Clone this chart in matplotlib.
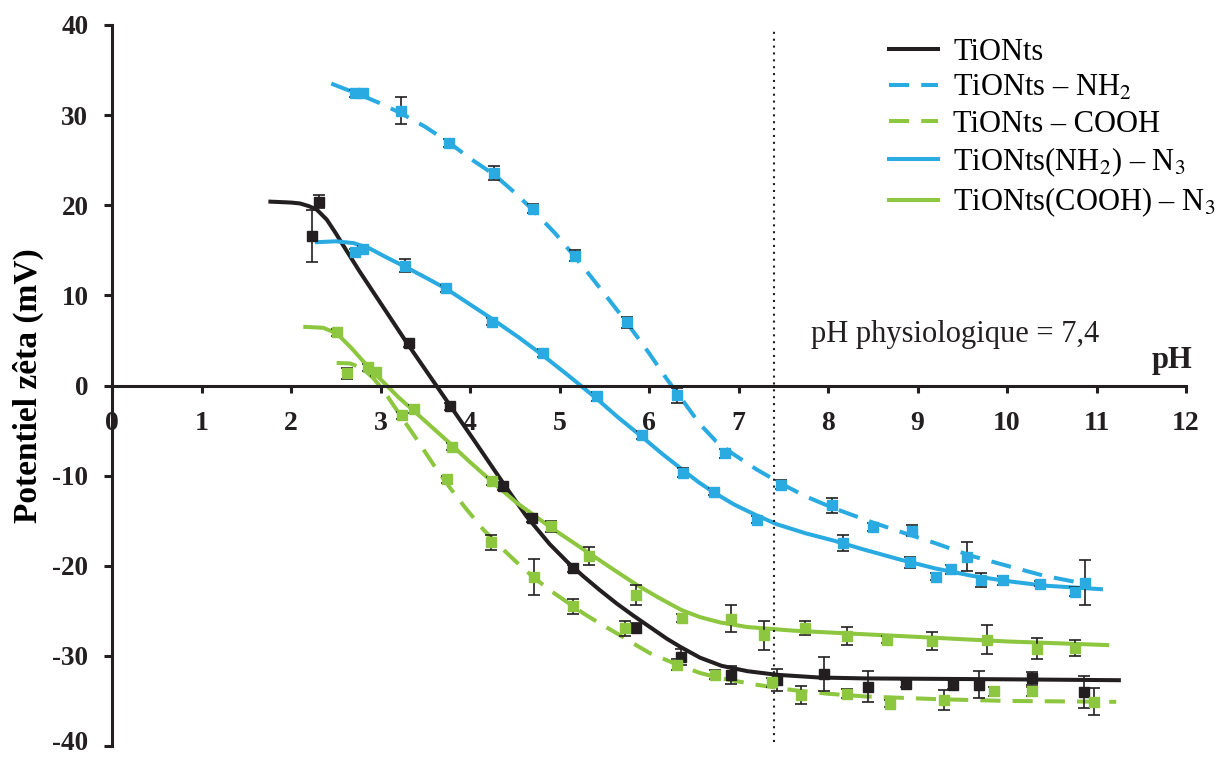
import matplotlib
matplotlib.use("Agg")
import matplotlib.pyplot as plt
from matplotlib.transforms import ScaledTranslation

plt.rcParams["font.family"] = ["Liberation Serif", "DejaVu Serif"]
plt.rcParams["mathtext.fontset"] = "stix"
plt.rcParams["axes.unicode_minus"] = False

BLACK = "#231F20"
BLUE = "#29ABE2"
GREEN = "#8DC63F"

# --- measured points (pH, zeta potential mV, error) ---
tionts_x = [2.23, 2.31, 3.32, 3.78, 4.37, 4.69, 5.15, 5.86, 6.36, 6.92, 7.43, 7.96, 8.45, 8.87, 9.40, 9.69, 10.28, 10.86]
tionts_y = [16.6, 20.4, 4.7, -2.3, -11.2, -14.7, -20.3, -26.9, -30.1, -32.1, -32.7, -32.0, -33.4, -33.1, -33.2, -33.2, -32.5, -34.0]
tionts_err = [2.9, 0.7, 0.4, 0.4, 0.4, 0.4, 0.4, 0.5, 0.9, 1.0, 1.2, 1.9, 1.7, 0.4, 0.5, 1.5, 0.7, 1.8]

nh2_x = [2.72, 2.80, 3.23, 3.76, 4.27, 4.70, 5.17, 5.75, 6.31, 6.85, 7.47, 8.05, 8.50, 8.94, 9.55, 10.87]
nh2_y = [32.4, 32.5, 30.5, 26.9, 23.6, 19.6, 14.4, 7.0, -1.1, -7.5, -11.0, -13.3, -15.7, -16.1, -19.0, -21.9]
nh2_err = [0.4, 0.4, 1.5, 0.4, 0.75, 0.5, 0.6, 0.6, 0.8, 0.5, 0.5, 0.8, 0.4, 0.6, 1.6, 2.5]

cooh_x = [2.63, 2.95, 3.24, 3.74, 4.23, 4.71, 5.15, 5.73, 6.31, 6.74, 7.37, 7.70, 8.21, 8.69, 9.30, 9.86, 10.28, 10.97]
cooh_y = [1.35, 1.5, -3.3, -10.4, -17.4, -21.2, -24.5, -26.95, -31.0, -32.1, -32.9, -34.35, -34.2, -35.3, -34.9, -33.9, -33.9, -35.1]
cooh_err = [0.6, 0.4, 0.4, 0.4, 0.8, 2.0, 0.8, 0.8, 0.6, 0.5, 0.5, 1.0, 0.5, 0.4, 1.1, 0.5, 0.5, 1.5]

nh2n3_x = [2.72, 2.81, 3.27, 3.73, 4.25, 4.82, 5.42, 5.92, 6.38, 6.73, 7.21, 8.17, 8.92, 9.21, 9.37, 9.71, 9.95, 10.37, 10.76]
nh2n3_y = [14.8, 15.1, 13.3, 10.8, 7.1, 3.6, -1.2, -5.5, -9.7, -11.8, -14.9, -17.5, -19.6, -21.2, -20.4, -21.6, -21.6, -22.0, -22.9]
nh2n3_err = [0.4, 0.4, 0.7, 0.4, 0.4, 0.4, 0.5, 0.4, 0.5, 0.4, 0.4, 0.9, 0.6, 0.4, 0.5, 0.8, 0.5, 0.3, 0.5]

coohn3_x = [2.51, 2.86, 3.37, 3.80, 4.25, 4.91, 5.33, 5.86, 6.37, 6.92, 7.29, 7.74, 8.21, 8.66, 9.16, 9.78, 10.34, 10.76]
coohn3_y = [5.9, 2.0, -2.6, -6.8, -10.6, -15.6, -18.9, -23.25, -25.8, -25.9, -27.7, -26.9, -27.8, -28.2, -28.4, -28.2, -29.2, -29.1]
coohn3_err = [0.4, 0.4, 0.4, 0.4, 0.4, 0.6, 1.0, 1.1, 0.4, 1.5, 1.6, 0.8, 1.0, 0.4, 1.0, 1.6, 1.2, 0.9]

# --- fitted curves ---
fit_tionts_x = [1.77, 2.0, 2.10, 2.2, 2.29, 2.40, 2.50, 2.58, 2.77, 3.03, 3.29, 3.63, 4.04, 4.41, 4.63, 4.89, 5.1, 5.27, 5.45, 5.64, 5.82, 6.01, 6.2, 6.35, 6.57, 6.81, 7.1, 7.43, 7.9, 8.41, 10.0, 11.25]
fit_tionts_y = [20.4, 20.3, 20.2, 19.9, 19.5, 18.4, 16.9, 15.6, 12.6, 8.7, 4.8, -0.1, -6.0, -11.4, -14.5, -17.6, -19.7, -21.2, -22.7, -24.2, -25.5, -26.8, -28.1, -29.0, -30.2, -31.1, -31.7, -32.1, -32.4, -32.5, -32.6, -32.7]

fit_nh2_x = [2.45, 2.76, 3.0, 3.23, 3.5, 3.76, 4.0, 4.27, 4.5, 4.70, 4.95, 5.17, 5.35, 5.5, 5.75, 6.0, 6.2, 6.35, 6.57, 6.75, 6.94, 7.2, 7.46, 7.75, 8.06, 8.5, 8.8, 9.2, 9.6, 10.0, 10.41, 10.92]
fit_nh2_y = [33.5, 32.3, 31.3, 30.2, 28.7, 27.0, 25.2, 23.4, 21.4, 19.5, 16.9, 14.3, 12.1, 10.2, 7.0, 3.6, 0.7, -1.3, -4.3, -6.2, -7.6, -9.3, -10.8, -12.3, -13.6, -15.2, -16.2, -17.5, -18.9, -20.0, -21.1, -22.1]

fit_cooh_x = [2.51, 2.66, 2.80, 2.92, 3.03, 3.2, 3.40, 3.6, 3.78, 3.95, 4.15, 4.35, 4.52, 4.7, 4.89, 5.08, 5.27, 5.45, 5.64, 5.82, 6.01, 6.3, 6.57, 6.81, 7.2, 7.61, 8.0, 8.41, 9.21, 10.0, 11.22]
fit_cooh_y = [2.5, 2.45, 1.9, 0.8, -0.5, -3.0, -5.9, -8.9, -11.4, -13.6, -16.0, -18.0, -19.6, -21.2, -22.7, -24.0, -25.3, -26.4, -27.5, -28.6, -29.7, -30.9, -31.9, -32.5, -33.2, -33.8, -34.2, -34.5, -34.8, -35.0, -35.1]

fit_nh2n3_x = [2.29, 2.5, 2.70, 2.88, 3.05, 3.29, 3.5, 3.74, 4.0, 4.26, 4.55, 4.82, 5.1, 5.42, 5.65, 5.91, 6.15, 6.38, 6.55, 6.73, 6.95, 7.2, 7.43, 7.75, 8.06, 8.4, 8.80, 9.2, 9.6, 10.0, 10.41, 11.05]
fit_nh2n3_y = [15.9, 16.0, 15.8, 15.2, 14.3, 13.1, 12.0, 10.7, 9.0, 7.3, 5.3, 3.3, 1.1, -1.5, -3.5, -5.6, -7.6, -9.4, -10.7, -11.9, -13.2, -14.4, -15.4, -16.4, -17.2, -18.2, -19.3, -20.3, -21.1, -21.7, -22.2, -22.6]

fit_coohn3_x = [2.16, 2.36, 2.51, 2.68, 2.85, 3.03, 3.2, 3.37, 3.55, 3.74, 4.0, 4.25, 4.52, 4.91, 5.27, 5.6, 5.86, 6.1, 6.36, 6.57, 6.8, 7.1, 7.61, 8.2, 8.81, 10.0, 11.12]
fit_coohn3_y = [6.5, 6.4, 5.8, 4.1, 2.2, 0.4, -1.3, -2.8, -4.4, -6.1, -8.5, -10.7, -13.0, -15.8, -18.2, -20.4, -22.1, -23.5, -24.9, -25.7, -26.3, -26.8, -27.2, -27.5, -27.8, -28.4, -28.8]

labels = ["TiONts", "TiONts – NH$_2$", "TiONts – COOH",
          "TiONts(NH$_2$) – N$_3$", "TiONts(COOH) – N$_3$"]
x_ticks = list(range(0, 13))
y_ticks = list(range(-40, 41, 10))
ph_physio = 7.4

fig = plt.figure(figsize=(12.26, 7.58), dpi=100)
ax = fig.add_axes([112 / 1226, 1 - 746 / 758, 1074 / 1226, 721 / 758])

dash = (0, (5, 3))
lw = 2.9
h1, = ax.plot(fit_tionts_x, fit_tionts_y, color=BLACK, lw=lw)
h2, = ax.plot(fit_nh2_x, fit_nh2_y, color=BLUE, lw=lw, ls=dash)
h3, = ax.plot(fit_cooh_x, fit_cooh_y, color=GREEN, lw=lw, ls=dash)
h4, = ax.plot(fit_nh2n3_x, fit_nh2n3_y, color=BLUE, lw=lw)
h5, = ax.plot(fit_coohn3_x, fit_coohn3_y, color=GREEN, lw=lw)

series = [
    (tionts_x, tionts_y, tionts_err, BLACK),
    (nh2_x, nh2_y, nh2_err, BLUE),
    (cooh_x, cooh_y, cooh_err, GREEN),
    (nh2n3_x, nh2n3_y, nh2n3_err, BLUE),
    (coohn3_x, coohn3_y, coohn3_err, GREEN),
]
for xs, ys, es, c in series:
    ax.errorbar(xs, ys, yerr=es, fmt="s", color=c, mec=c, ms=6.5,
                ecolor=BLACK, elinewidth=1.2, capsize=4, capthick=1.2, zorder=3)

ax.axvline(ph_physio, ymin=0.005, ymax=0.995, color=BLACK, lw=1.5, ls=(0, (1, 2.3)))
ax.text(7.81, 4.8, "pH physiologique = 7,4", fontsize=22, color=BLACK, va="baseline")
ax.text(12.07, 1.9, "pH", fontsize=22, fontweight="bold", color=BLACK,
        ha="right", va="baseline")

ax.set_xlim(0, 12)
ax.set_ylim(-40, 40)
ax.spines["bottom"].set_position(("data", 0))
ax.spines["top"].set_visible(False)
ax.spines["right"].set_visible(False)
for s in ("left", "bottom"):
    ax.spines[s].set_linewidth(2.2)
    ax.spines[s].set_color(BLACK)
ax.set_xticks(x_ticks)
ax.set_yticks(y_ticks)
ax.tick_params(axis="x", direction="out", length=5, width=2.2, pad=13, labelsize=20, colors=BLACK)
ax.tick_params(axis="y", direction="out", length=6, width=2.2, pad=11, labelsize=19.5, colors=BLACK)
for t in ax.get_xticklabels() + ax.get_yticklabels():
    t.set_fontweight("bold")
# keep the lowest label inside the canvas
low = ax.get_yticklabels()[0]
low.set_transform(low.get_transform() + ScaledTranslation(0, 4 / 72, fig.dpi_scale_trans))

ax.set_ylabel("Potentiel zêta (mV)", fontsize=24, fontweight="bold")
ax.yaxis.set_label_coords(-0.063, 0.5)

fig.legend([h1, h2, h3, h4, h5], labels, loc="upper left",
           bbox_to_anchor=(889 / 1226, 1 - 38 / 758), frameon=False, fontsize=22,
           borderpad=0, borderaxespad=0, handlelength=1.6, handletextpad=0.5,
           labelspacing=0.22)

fig.savefig("out.png", dpi=100)
